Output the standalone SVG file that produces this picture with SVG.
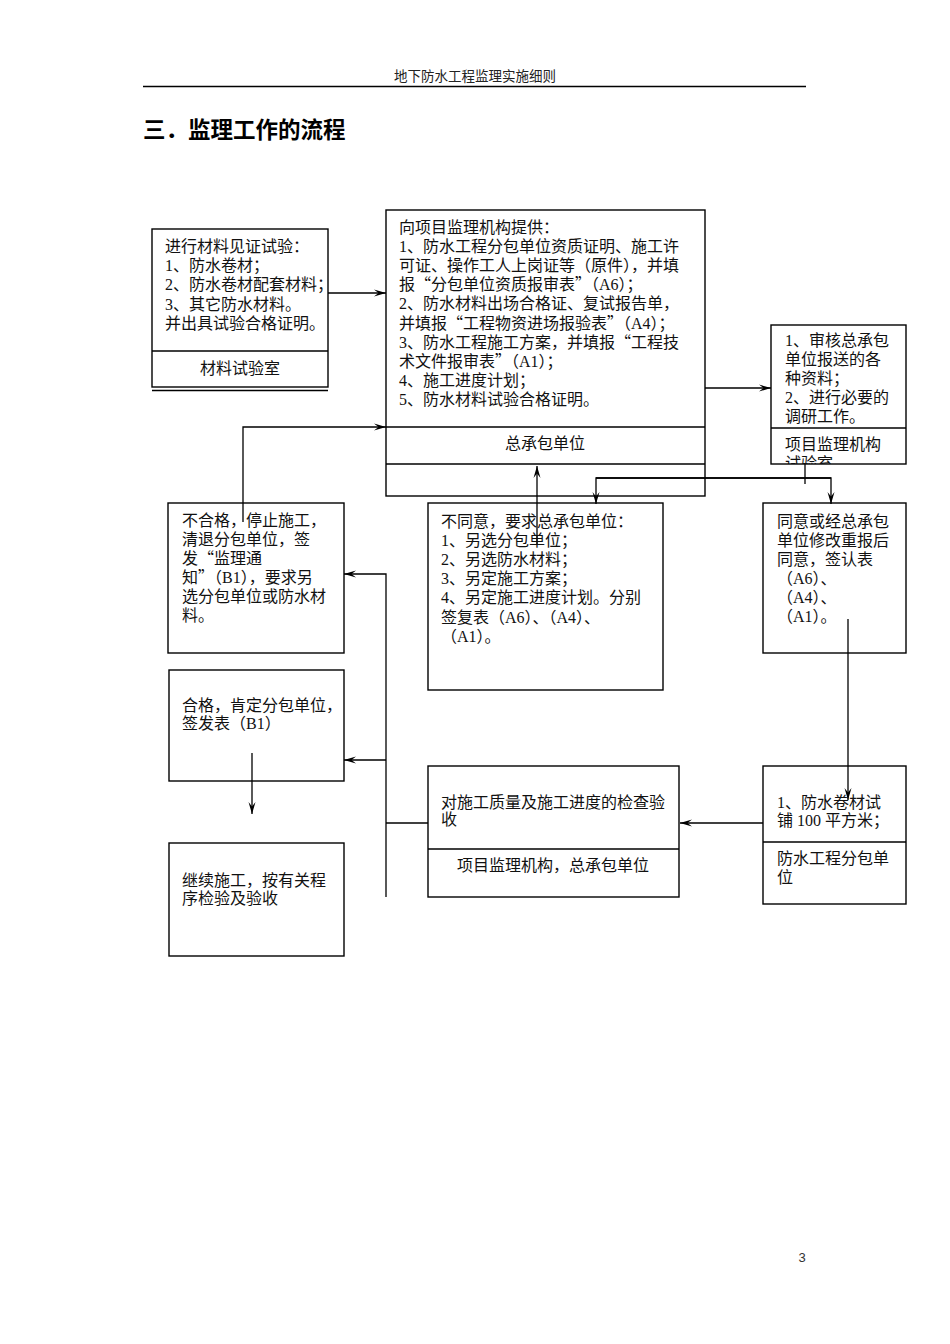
<svg xmlns="http://www.w3.org/2000/svg" width="950" height="1344" viewBox="0 0 950 1344">
<style>
.bx{fill:none;stroke:#000;stroke-width:1.4}
.ln{fill:none;stroke:#000;stroke-width:1.3}
.t{font-family:"Liberation Serif","Noto Sans CJK SC",serif;font-size:16px;fill:#111}
.c{text-anchor:middle}
.q{font-family:"Noto Sans CJK SC",sans-serif;font-feature-settings:"fwid" 1}
</style>
<defs>
<marker id="arr" viewBox="0 0 12 8" refX="12" refY="4" markerWidth="12" markerHeight="8" orient="auto" markerUnits="userSpaceOnUse">
<path d="M0,0.5 L12,4 L0,7.5 L4.5,4 Z" fill="#000"/>
</marker>
<clipPath id="clipC"><rect x="771" y="428" width="135" height="36"/></clipPath>
</defs>
<rect width="950" height="1344" fill="#fff"/>
<g id="header">
<text x="475" y="81" text-anchor="middle" font-family="Noto Sans CJK SC,sans-serif" font-size="13.5" fill="#222">地下防水工程监理实施细则</text>
<line x1="143" y1="86.5" x2="806" y2="86.5" stroke="#000" stroke-width="1.4"/>
<text x="143" y="138" font-family="Noto Sans CJK SC,sans-serif" font-size="22.5" font-weight="bold" fill="#000">三．监理工作的流程</text>
</g>
<g id="connectors">
<path class="ln" d="M328,293 H386" marker-end="url(#arr)"/>
<path class="ln" d="M705,388 H771" marker-end="url(#arr)"/>
<path class="ln" d="M243,522 V427 H386" marker-end="url(#arr)"/>
<path class="ln" d="M537,545 V466" marker-end="url(#arr)"/>
<path class="ln" d="M805,464 V484"/>
<path class="ln" d="M831,478 H596 V504" marker-end="url(#arr)"/>
<path class="ln" d="M596,478 H831 V504" marker-end="url(#arr)"/>
<path class="ln" d="M386,897 V574 H344" marker-end="url(#arr)"/>
<path class="ln" d="M386,760 H344" marker-end="url(#arr)"/>
<path class="ln" d="M428,823 H386"/>
<path class="ln" d="M848,619 V800" marker-end="url(#arr)"/>
<path class="ln" d="M763,823 H680" marker-end="url(#arr)"/>
<path class="ln" d="M252,753 V814" marker-end="url(#arr)"/>
</g>
<g id="lab">
<rect class="bx" x="152" y="229" width="176" height="158"/>
<line class="bx" x1="152" y1="351" x2="328" y2="351"/>
<line class="bx" x1="152" y1="390.5" x2="328" y2="390.5"/>
<text class="t" x="165" y="252">进行材料见证试验：</text>
<text class="t" x="165" y="271.2">1、防水卷材；</text>
<text class="t" x="165" y="290.4">2、防水卷材配套材料；</text>
<text class="t" x="165" y="309.6">3、其它防水材料。</text>
<text class="t" x="165" y="328.8">并出具试验合格证明。</text>
<text class="t c" x="240" y="373.5">材料试验室</text>
</g>
<g id="contractor">
<rect class="bx" x="386" y="210" width="319" height="286"/>
<line class="bx" x1="386" y1="427" x2="705" y2="427"/>
<line class="bx" x1="386" y1="464" x2="705" y2="464"/>
<text class="t" x="399" y="232.5">向项目监理机构提供：</text>
<text class="t" x="399" y="251.7">1、防水工程分包单位资质证明、施工许</text>
<text class="t" x="399" y="270.9">可证、操作工人上岗证等（原件），并填</text>
<text class="t" x="399" y="290.1">报<tspan class="q">“</tspan>分包单位资质报审表<tspan class="q">”</tspan>（A6）；</text>
<text class="t" x="399" y="309.3">2、防水材料出场合格证、复试报告单，</text>
<text class="t" x="399" y="328.5">并填报<tspan class="q">“</tspan>工程物资进场报验表<tspan class="q">”</tspan>（A4）；</text>
<text class="t" x="399" y="347.7">3、防水工程施工方案，并填报<tspan class="q">“</tspan>工程技</text>
<text class="t" x="399" y="366.9">术文件报审表<tspan class="q">”</tspan>（A1）；</text>
<text class="t" x="399" y="386.1">4、施工进度计划；</text>
<text class="t" x="399" y="405.3">5、防水材料试验合格证明。</text>
<text class="t c" x="545" y="448.5">总承包单位</text>
</g>
<g id="supervisor">
<rect class="bx" x="771" y="325" width="135" height="139"/>
<line class="bx" x1="771" y1="428" x2="906" y2="428"/>
<text class="t" x="785" y="345.5">1、审核总承包</text>
<text class="t" x="785" y="364.7">单位报送的各</text>
<text class="t" x="785" y="383.9">种资料；</text>
<text class="t" x="785" y="403.1">2、进行必要的</text>
<text class="t" x="785" y="422.3">调研工作。</text>
<g clip-path="url(#clipC)">
<text class="t" x="785" y="449.5">项目监理机构</text>
<text class="t" x="785" y="468.7">试验室</text>
</g>
</g>
<g id="reject">
<rect class="bx" x="168" y="503" width="176" height="150"/>
<text class="t" x="182" y="526">不合格，停止施工，</text>
<text class="t" x="182" y="544.9">清退分包单位，签</text>
<text class="t" x="182" y="563.8">发<tspan class="q">“</tspan>监理通</text>
<text class="t" x="182" y="582.7">知<tspan class="q">”</tspan>（B1），要求另</text>
<text class="t" x="182" y="601.6">选分包单位或防水材</text>
<text class="t" x="182" y="620.5">料。</text>
</g>
<g id="disagree">
<rect class="bx" x="428" y="503" width="235" height="187"/>
<text class="t" x="441" y="527">不同意，要求总承包单位：</text>
<text class="t" x="441" y="546.1">1、另选分包单位；</text>
<text class="t" x="441" y="565.2">2、另选防水材料；</text>
<text class="t" x="441" y="584.3">3、另定施工方案；</text>
<text class="t" x="441" y="603.4">4、另定施工进度计划。分别</text>
<text class="t" x="441" y="622.5">签复表（A6）、（A4）、</text>
<text class="t" x="441" y="641.6">（A1）。</text>
</g>
<g id="agree">
<rect class="bx" x="763" y="503" width="143" height="150"/>
<text class="t" x="777" y="527">同意或经总承包</text>
<text class="t" x="777" y="546">单位修改重报后</text>
<text class="t" x="777" y="565">同意，签认表</text>
<text class="t" x="777" y="584">（A6）、</text>
<text class="t" x="777" y="603">（A4）、</text>
<text class="t" x="777" y="622">（A1）。</text>
</g>
<g id="qualified">
<rect class="bx" x="169" y="670" width="175" height="111"/>
<text class="t" x="182" y="710.5">合格，肯定分包单位，</text>
<text class="t" x="182" y="729">签发表（B1）</text>
</g>
<g id="continue">
<rect class="bx" x="169" y="843" width="175" height="113"/>
<text class="t" x="182" y="885.5">继续施工，按有关程</text>
<text class="t" x="182" y="904">序检验及验收</text>
</g>
<g id="inspect">
<rect class="bx" x="428" y="766" width="251" height="131"/>
<line class="bx" x1="428" y1="849" x2="679" y2="849"/>
<text class="t" x="441" y="807.5">对施工质量及施工进度的检查验</text>
<text class="t" x="441" y="825">收</text>
<text class="t c" x="553" y="870.5">项目监理机构，总承包单位</text>
</g>
<g id="trial">
<rect class="bx" x="763" y="766" width="143" height="138"/>
<line class="bx" x1="763" y1="842" x2="906" y2="842"/>
<text class="t" x="777" y="807.5">1、防水卷材试</text>
<text class="t" x="777" y="826">铺 100 平方米；</text>
<text class="t" x="777" y="863.5">防水工程分包单</text>
<text class="t" x="777" y="882.5">位</text>
</g>
<text x="802" y="1262" text-anchor="middle" font-family="Liberation Sans,sans-serif" font-size="13" fill="#333">3</text>
</svg>
